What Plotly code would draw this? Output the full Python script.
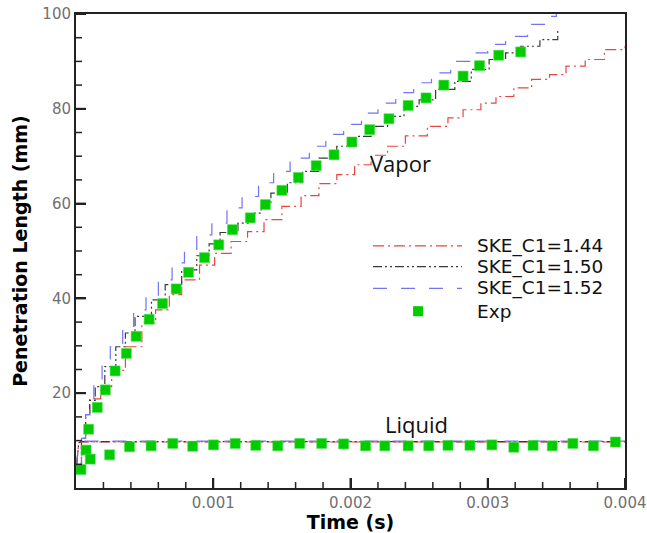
import plotly.graph_objects as go

# ---- simulated vapor penetration (time in s, length in mm) ----
t_c144 = [0.00001, 0.00004, 0.00007, 0.0001, 0.00018, 0.00026, 0.00036, 0.00048, 0.00058,
          0.00068, 0.00077, 0.0009, 0.00101, 0.00113, 0.00125, 0.00137, 0.0015, 0.00164,
          0.00177, 0.0019, 0.00203, 0.00215, 0.00227, 0.0024, 0.00256, 0.00271, 0.00282,
          0.00295, 0.00306, 0.00319, 0.00332, 0.00345, 0.00357, 0.00371, 0.00385, 0.004]
vap_c144 = [4.5, 10.5, 15.5, 18.8, 21.4, 24.8, 29.8, 34.8, 37.6, 40.8, 43.9, 47.0, 49.5,
            52.0, 54.1, 56.6, 59.4, 61.7, 64.2, 66.1, 68.2, 70.2, 72.1, 74.3, 76.3, 78.1,
            79.8, 81.2, 82.6, 84.4, 86.2, 87.2, 89.0, 90.4, 92.5, 93.2]

t_c150 = [0.00001, 0.00004, 0.00007, 0.0001, 0.00014, 0.00021, 0.00029, 0.00036, 0.00043,
          0.00055, 0.00065, 0.00077, 0.00088, 0.00097, 0.00105, 0.00118, 0.00128, 0.00135,
          0.00142, 0.00154, 0.00165, 0.00177, 0.0019, 0.00204, 0.00215, 0.00227, 0.00239,
          0.0025, 0.00262, 0.00276, 0.00288, 0.00301, 0.00313, 0.00324, 0.00338, 0.00351]
vap_c150 = [4.5, 10.5, 15.5, 18.5, 21.4, 25.6, 29.8, 32.7, 36.2, 39.7, 42.9, 46.0, 49.0,
            51.5, 53.9, 55.9, 58.0, 60.0, 62.2, 64.4, 66.8, 69.6, 72.1, 74.2, 76.3, 78.4,
            80.5, 81.9, 84.1, 85.8, 88.3, 90.4, 91.8, 93.2, 94.6, 96.4]

t_c152 = [0.00001, 0.00004, 0.00007, 0.0001, 0.00013, 0.00019, 0.00025, 0.00034, 0.00042,
          0.00051, 0.0006, 0.0007, 0.00079, 0.00088, 0.00099, 0.0011, 0.00121, 0.00133,
          0.00144, 0.00156, 0.0017, 0.00182, 0.00195, 0.00208, 0.0022, 0.00233, 0.00246,
          0.00259, 0.00273, 0.00287, 0.003, 0.00313, 0.00329, 0.00342, 0.0035]
vap_c152 = [4.5, 10.5, 15.5, 18.8, 21.8, 26.0, 29.8, 33.4, 37.6, 40.4, 43.9, 47.5, 49.9,
            53.4, 55.9, 59.1, 61.5, 64.4, 66.8, 69.6, 72.1, 74.6, 76.7, 79.1, 81.2, 83.4,
            85.5, 87.6, 90.0, 91.8, 93.6, 95.3, 97.8, 99.5, 101.0]

# ---- simulated liquid penetration ----
t_liq = [0.000005, 0.00002, 0.00004, 0.0004, 0.001, 0.002, 0.003, 0.004]
liq_c144 = [5.0, 9.5, 9.7, 9.7, 9.7, 9.7, 9.7, 9.7]
liq_c150 = [5.0, 9.6, 9.8, 9.8, 9.8, 9.8, 9.8, 9.8]
liq_c152 = [5.0, 9.6, 9.9, 9.9, 9.9, 9.9, 9.9, 9.9]

# ---- experiment ----
exp_vap_t = [0.000036, 0.000073, 0.000092, 0.000155, 0.000214, 0.000285, 0.000367, 0.000438,
             0.000533, 0.00063, 0.00073, 0.00082, 0.000936, 0.00104, 0.00114, 0.00127, 0.00138,
             0.0015, 0.00162, 0.00175, 0.00188, 0.00201, 0.00214, 0.00228, 0.00242, 0.00255,
             0.00268, 0.00282, 0.00294, 0.00308, 0.00324]
exp_vap = [3.9, 8.0, 12.4, 17.0, 20.7, 24.7, 28.4, 32.0, 35.6, 38.9, 42.0, 45.5, 48.6, 51.3,
           54.5, 57.0, 59.8, 62.8, 65.5, 68.0, 70.3, 73.0, 75.6, 77.9, 80.7, 82.3, 85.0, 86.9,
           89.1, 91.3, 92.0]
exp_liq_t = [0.000104, 0.000245, 0.00039, 0.000547, 0.000705, 0.00085, 0.001002, 0.00116,
             0.00131, 0.00147, 0.00163, 0.00179, 0.00195, 0.00211, 0.00225, 0.00242, 0.00257,
             0.00271, 0.00287, 0.00303, 0.00319, 0.00333, 0.00347, 0.00362, 0.00377, 0.00393]
exp_liq = [6.1, 7.0, 8.7, 8.9, 9.4, 8.8, 9.1, 9.4, 9.0, 8.9, 9.4, 9.4, 9.3, 8.9, 8.9, 8.9,
           8.9, 9.0, 9.0, 9.1, 8.6, 9.0, 8.9, 9.4, 8.9, 9.7]

series_names = ["SKE_C1=1.44", "SKE_C1=1.50", "SKE_C1=1.52"]
exp_name = "Exp"
x_tickvals = [0.001, 0.002, 0.003, 0.004]
x_ticktext = ["0.001", "0.002", "0.003", "0.004"]
y_tickvals = [20, 40, 60, 80, 100]
y_ticktext = ["20", "40", "60", "80", "100"]

X_RANGE = [0, 0.004]
Y_RANGE = [0, 100]
X_MINOR_STEP = 0.0002
Y_MINOR_STEP = 5

styles = [
    dict(color="#e8463f", dash="11px,4px,2px,4px"),
    dict(color="#3a3a3a", dash="9px,3px,2px,3px,2px,3px"),
    dict(color="#7373f5", dash="14px,14px"),
]
GREEN = "#00cc00"
LINE_W = 1.2
AX_COLOR = "#222"

W, H = 647, 533
MARGIN = dict(l=76, r=22, t=14, b=45)
plot_w = W - MARGIN["l"] - MARGIN["r"]
plot_h = H - MARGIN["t"] - MARGIN["b"]

fig = go.Figure()
vap = [(t_c144, vap_c144), (t_c150, vap_c150), (t_c152, vap_c152)]
liq = [liq_c144, liq_c150, liq_c152]
for (tv, yv), yl, st, nm in zip(vap, liq, styles, series_names):
    fig.add_trace(go.Scatter(x=tv, y=yv, mode="lines", name=nm, line_shape="hv",
                             line=dict(color=st["color"], dash=st["dash"], width=LINE_W),
                             showlegend=False))
    fig.add_trace(go.Scatter(x=t_liq, y=yl, mode="lines", name=nm,
                             line=dict(color=st["color"], dash=st["dash"], width=LINE_W),
                             showlegend=False))

fig.add_trace(go.Scatter(x=exp_vap_t + exp_liq_t, y=exp_vap + exp_liq, mode="markers",
                         name=exp_name, showlegend=False,
                         marker=dict(symbol="square", size=10, color=GREEN,
                                     line=dict(width=0.6, color="#55dd55"))))


# ---- inward tick marks along the bottom and left frame edges (as layout shapes) ----
def add_edge_ticks(x_vals, y_vals, len_px, width):
    lx = len_px / plot_w * (X_RANGE[1] - X_RANGE[0])
    ly = len_px / plot_h * (Y_RANGE[1] - Y_RANGE[0])
    tick_line = dict(color=AX_COLOR, width=width)
    for v in x_vals:
        fig.add_shape(type="line", xref="x", yref="y", x0=v, x1=v,
                      y0=Y_RANGE[0], y1=Y_RANGE[0] + ly, line=tick_line)
    for v in y_vals:
        fig.add_shape(type="line", xref="x", yref="y", x0=X_RANGE[0], x1=X_RANGE[0] + lx,
                      y0=v, y1=v, line=tick_line)


n_xminor = round((X_RANGE[1] - X_RANGE[0]) / X_MINOR_STEP)
n_yminor = round((Y_RANGE[1] - Y_RANGE[0]) / Y_MINOR_STEP)
x_minor = [X_RANGE[0] + i * X_MINOR_STEP for i in range(1, n_xminor) if i % 5]
y_minor = [Y_RANGE[0] + i * Y_MINOR_STEP for i in range(1, n_yminor) if i % 4]
add_edge_ticks(x_tickvals, y_tickvals, 10, 2)
add_edge_ticks(x_minor, y_minor, 6, 1.5)

# ---- hand-drawn key in the right half of the plot area ----
key_x0, key_x1, key_text_x = 0.541, 0.703, 0.727
key_rows = [0.511, 0.467, 0.421, 0.373]
key_font = dict(family="DejaVu Sans", size=18.5, color="#111")
for st, nm, ky in zip(styles, series_names, key_rows):
    fig.add_shape(type="line", xref="paper", yref="paper", x0=key_x0, x1=key_x1, y0=ky, y1=ky,
                  line=dict(color=st["color"], dash=st["dash"], width=LINE_W))
    fig.add_annotation(xref="paper", yref="paper", x=key_text_x, y=ky, text=nm, showarrow=False,
                       xanchor="left", yanchor="middle", font=key_font)
fig.add_shape(type="rect", xref="paper", yref="paper", x0=0.614, x1=0.632,
              y0=key_rows[3] - 0.0106, y1=key_rows[3] + 0.0106,
              line=dict(width=0), fillcolor=GREEN)
fig.add_annotation(xref="paper", yref="paper", x=key_text_x, y=key_rows[3], text=exp_name,
                   showarrow=False, xanchor="left", yanchor="middle", font=key_font)

# region labels
fig.add_annotation(x=0.00213, y=68.6, text="Vapor", showarrow=False, xanchor="left",
                   yanchor="middle", font=dict(family="Open Sans", size=22, color="#111"))
fig.add_annotation(x=0.00224, y=13.4, text="Liquid", showarrow=False, xanchor="left",
                   yanchor="middle", font=dict(family="Open Sans", size=22, color="#111"))

axis_common = dict(
    showline=True, linecolor=AX_COLOR, linewidth=2, mirror=True,
    ticks="inside", ticklen=10, tickwidth=2, tickcolor=AX_COLOR,
    gridcolor="white", zerolinecolor=AX_COLOR, automargin=False,
    tickfont=dict(family="DejaVu Sans", size=15, color="#707070"),
)
fig.update_xaxes(**axis_common, range=X_RANGE, tickvals=x_tickvals, ticktext=x_ticktext,
                 title=dict(text="<b>Time (s)</b>", standoff=2,
                            font=dict(family="DejaVu Sans", size=19, color="#000")))
fig.update_yaxes(**axis_common, range=Y_RANGE, tickvals=y_tickvals, ticktext=y_ticktext,
                 title=dict(text="<b>Penetration Length (mm)</b>", standoff=10,
                            font=dict(family="DejaVu Sans", size=19, color="#000")))

fig.update_layout(width=W, height=H, margin=MARGIN,
                  plot_bgcolor="white", showlegend=False)

fig.write_html("out.html")
